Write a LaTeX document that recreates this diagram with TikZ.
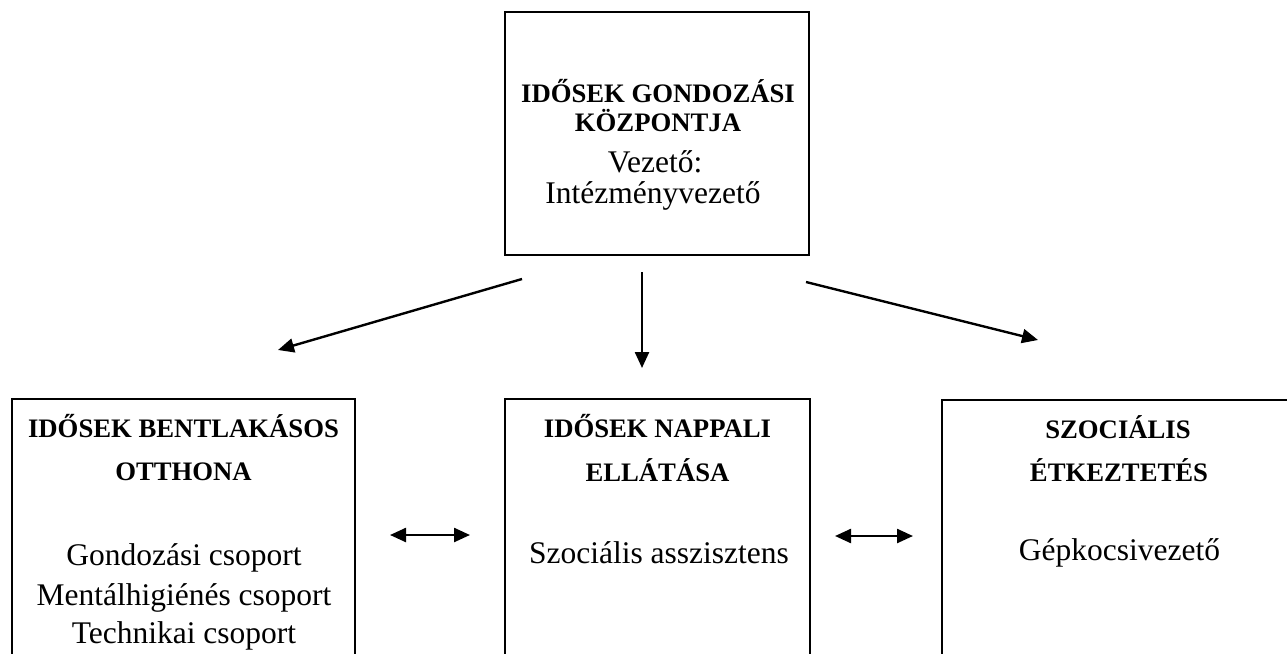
\documentclass[tikz,border=0pt]{standalone}
\usepackage{fontspec}
\setmainfont{Liberation Serif}
\usetikzlibrary{arrows.meta}
\tikzset{
  box/.style={draw, line width=2.8pt, rectangle, inner sep=0pt},
  hd/.style={anchor=base, inner sep=0pt, font=\fontsize{26.7}{30}\selectfont\bfseries},
  tx/.style={anchor=base, inner sep=0pt, font=\fontsize{31.5}{36}\selectfont},
  tip/.tip={Triangle[length=16pt,width=14pt]},
  arr/.style={line width=2.4pt, -tip},
  darr/.style={line width=2.4pt, tip-tip}
}
\begin{document}
\begin{tikzpicture}[x=1pt,y=-1pt]
\useasboundingbox (0,0) rectangle (1287,653);
\clip (0,0) rectangle (1287,653);
% boxes
\node[box, minimum width=304pt, minimum height=243pt] (top) at (657,133.5) {};
\node[box, minimum width=343pt, minimum height=300pt] (left) at (183.5,549) {};
\node[box, minimum width=305pt, minimum height=300pt] (mid) at (657.5,549) {};
\node[box, minimum width=354pt, minimum height=300pt] (right) at (1119,550) {};
% top texts
\node[hd] (t1) at (658,102) {IDŐSEK GONDOZÁSI};
\node[hd] (t2) at (658,131) {KÖZPONTJA};
\node[tx] (t3) at (655,172) {Vezető:};
\node[tx] (t4) at (653,203) {Intézményvezető};
% left texts
\node[hd] (l1) at (183.5,437) {IDŐSEK BENTLAKÁSOS};
\node[hd] (l2) at (183.5,480) {OTTHONA};
\node[tx] (l3) at (184,565) {Gondozási csoport};
\node[tx] (l4) at (184,605) {Mentálhigiénés csoport};
\node[tx] (l5) at (184,643) {Technikai csoport};
% middle texts
\node[hd] (m1) at (657.5,437) {IDŐSEK NAPPALI};
\node[hd] (m2) at (657.5,481) {ELLÁTÁSA};
\node[tx] (m3) at (659,563) {Szociális asszisztens};
% right texts
\node[hd] (r1) at (1118,438) {SZOCIÁLIS};
\node[hd] (r2) at (1119,481) {ÉTKEZTETÉS};
\node[tx] (r3) at (1119.5,560) {Gépkocsivezető};
% arrow endpoints
\coordinate (aLs) at (522,279);
\coordinate (aLe) at (278,350);
\coordinate (aMs) at (642,272);
\coordinate (aMe) at (642,368);
\coordinate (aRs) at (806,282);
\coordinate (aRe) at (1038,340);
\coordinate (d1s) at (390,535);
\coordinate (d1e) at (470,535);
\coordinate (d2s) at (835,536);
\coordinate (d2e) at (913,536);
\draw[arr] (aLs) -- (aLe);
\draw[arr] (aMs) -- (aMe);
\draw[arr] (aRs) -- (aRe);
\draw[darr] (d1s) -- (d1e);
\draw[darr] (d2s) -- (d2e);
\end{tikzpicture}
\end{document}
